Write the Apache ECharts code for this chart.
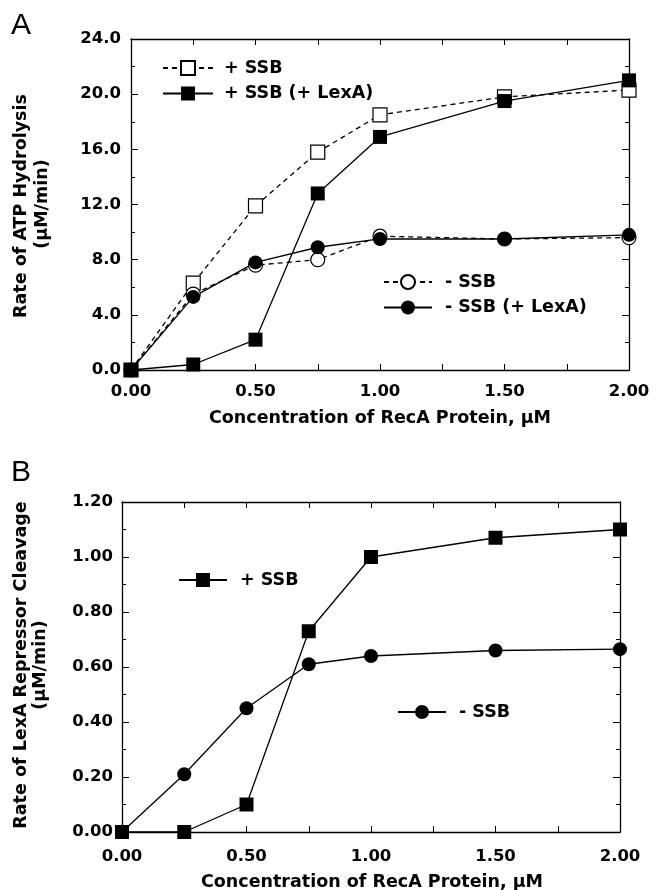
<!DOCTYPE html>
<html style="height: 100%">
   <head>
       <meta charset="utf-8">
       <title>RecA ATP hydrolysis and LexA cleavage</title>
       <script type="text/javascript" src="https://cdn.jsdelivr.net/npm/echarts@6/dist/echarts.min.js"></script>
   </head>
   <body style="height: 100%; margin: 0; background: #fff;">
       <div id="container" style="width: 656px; height: 890px"></div>
       <script type="text/javascript">
           // RecA concentration (uM), shared by both panels
           var recaConc = [0, 0.25, 0.5, 0.75, 1.0, 1.5, 2.0];

           // panel A: rate of ATP hydrolysis (uM/min)
           var atpPlusSSB = [0, 6.3, 11.9, 15.8, 18.5, 19.8, 20.3];
           var atpPlusSSBLexA = [0, 0.4, 2.2, 12.8, 16.9, 19.5, 21.0];
           var atpMinusSSB = [0, 5.5, 7.6, 8.0, 9.7, 9.5, 9.6];
           var atpMinusSSBLexA = [0, 5.3, 7.8, 8.9, 9.5, 9.5, 9.8];

           // panel B: rate of LexA repressor cleavage (uM/min)
           var lexaPlusSSB = [0, 0, 0.10, 0.73, 1.00, 1.07, 1.10];
           var lexaMinusSSB = [0, 0.21, 0.45, 0.61, 0.64, 0.66, 0.665];

           var FONT = 'DejaVu Sans';

           function pairs(ys) {
               var out = [];
               for (var i = 0; i < recaConc.length; i++) {
                   out.push([recaConc[i], ys[i]]);
               }
               return out;
           }

           function mkSeries(name, ys, sym, open, dashed, axisIdx) {
               return {
                   name: name,
                   type: 'line',
                   xAxisIndex: axisIdx,
                   yAxisIndex: axisIdx,
                   data: pairs(ys),
                   symbol: sym,
                   symbolSize: 14,
                   showAllSymbol: true,
                   animation: false,
                   lineStyle: {color: '#000', width: 1.3, type: dashed ? [5, 4] : 'solid'},
                   itemStyle: open ? {color: '#fff', borderColor: '#000', borderWidth: 1.2}
                                   : {color: '#000', borderColor: '#000', borderWidth: 0}
               };
           }

           // axis pair (bottom/top or left/right); only the first one gets labels
           function xAx(grid, labeled) {
               return {
                   type: 'value', gridIndex: grid, min: 0, max: 2, interval: 0.5,
                   position: labeled ? 'bottom' : 'top',
                   axisLine: {show: true, onZero: false, lineStyle: {color: '#000', width: 1.3}},
                   axisTick: {show: true, inside: true, length: 6, lineStyle: {color: '#000'}},
                   minorTick: {show: true, splitNumber: 2, length: 6, lineStyle: {color: '#000'}},
                   splitLine: {show: false},
                   axisLabel: {
                       show: labeled, margin: grid === 0 ? 13 : 16,
                       fontFamily: FONT, fontWeight: 'bold', fontSize: 16.5, color: '#000',
                       formatter: function (v) { return v.toFixed(2); }
                   }
               };
           }
           function yAx(grid, labeled, max, step, dec) {
               return {
                   type: 'value', gridIndex: grid, min: 0, max: max, interval: step,
                   position: labeled ? 'left' : 'right',
                   axisLine: {show: true, onZero: false, lineStyle: {color: '#000', width: 1.3}},
                   axisTick: {show: true, inside: true, length: 7, lineStyle: {color: '#000'}},
                   minorTick: {show: true, splitNumber: 2, length: 4, lineStyle: {color: '#000'}},
                   splitLine: {show: false},
                   axisLabel: {
                       show: labeled, margin: grid === 0 ? 10 : 9,
                       fontFamily: FONT, fontWeight: 'bold', fontSize: 16.5, color: '#000',
                       formatter: function (v) { return v.toFixed(dec); }
                   }
               };
           }

           // legend text sits 5px after the icon; padding adds the extra gap
           function mkLegend(names, left, top, width, gap) {
               return {
                   data: names, orient: 'vertical', left: left, top: top,
                   padding: 0, itemWidth: width, itemHeight: 17.5, itemGap: 7.5,
                   selectedMode: false,
                   textStyle: {fontFamily: FONT, fontWeight: 'bold', fontSize: 17.5, color: '#000',
                               padding: [0, 0, 0, gap]}
               };
           }

           function txt(s, x, y, size, bold, rot) {
               return {
                   type: 'text', x: x, y: y, rotation: rot || 0,
                   style: {
                       text: s, fill: '#000', align: 'center', verticalAlign: 'middle',
                       font: (bold ? 'bold ' : '') + size + 'px "' + (bold ? FONT : 'Liberation Sans') + '"'
                   }
               };
           }

           var myChart = echarts.init(document.getElementById('container'));
           var option = {
               backgroundColor: '#fff',
               animation: false,
               grid: [
                   {left: 131, top: 39, width: 498, height: 331},
                   {left: 122, top: 502, width: 498, height: 330}
               ],
               xAxis: [xAx(0, true), xAx(0, false), xAx(1, true), xAx(1, false)],
               yAxis: [yAx(0, true, 24, 4, 1), yAx(0, false, 24, 4, 1),
                       yAx(1, true, 1.2, 0.2, 2), yAx(1, false, 1.2, 0.2, 2)],
               legend: [
                   mkLegend(['+ SSB', '+ SSB (+ LexA)'], 162, 59, 50, 6),
                   mkLegend(['- SSB', '- SSB (+ LexA)'], 383, 273, 48, 8),
                   mkLegend(['+ SSB '], 178, 571, 48, 8),
                   mkLegend(['- SSB '], 397, 703, 48, 8)
               ],
               series: [
                   mkSeries('+ SSB', atpPlusSSB, 'rect', true, true, 0),
                   mkSeries('- SSB', atpMinusSSB, 'circle', true, true, 0),
                   mkSeries('+ SSB (+ LexA)', atpPlusSSBLexA, 'rect', false, false, 0),
                   mkSeries('- SSB (+ LexA)', atpMinusSSBLexA, 'circle', false, false, 0),
                   // panel B uses the 3rd/4th axes (index 2)
                   mkSeries('+ SSB ', lexaPlusSSB, 'rect', false, false, 2),
                   mkSeries('- SSB ', lexaMinusSSB, 'circle', false, false, 2)
               ],
               graphic: [
                   txt('A', 21, 26, 30, false),
                   txt('B', 21, 473, 30, false),
                   txt('Concentration of RecA Protein, \u03bcM', 380, 418, 17.5, true),
                   txt('Concentration of RecA Protein, \u03bcM', 372, 882, 17.5, true),
                   txt('Rate of ATP Hydrolysis', 21, 206, 17.5, true, Math.PI / 2),
                   txt('(\u03bcM/min)', 42, 204, 17.5, true, Math.PI / 2),
                   txt('Rate of LexA Repressor Cleavage', 21, 665, 17.5, true, Math.PI / 2),
                   txt('(\u03bcM/min)', 40, 665, 17.5, true, Math.PI / 2)
               ]
           };
           myChart.setOption(option, true);
       </script>
   </body>
</html>
